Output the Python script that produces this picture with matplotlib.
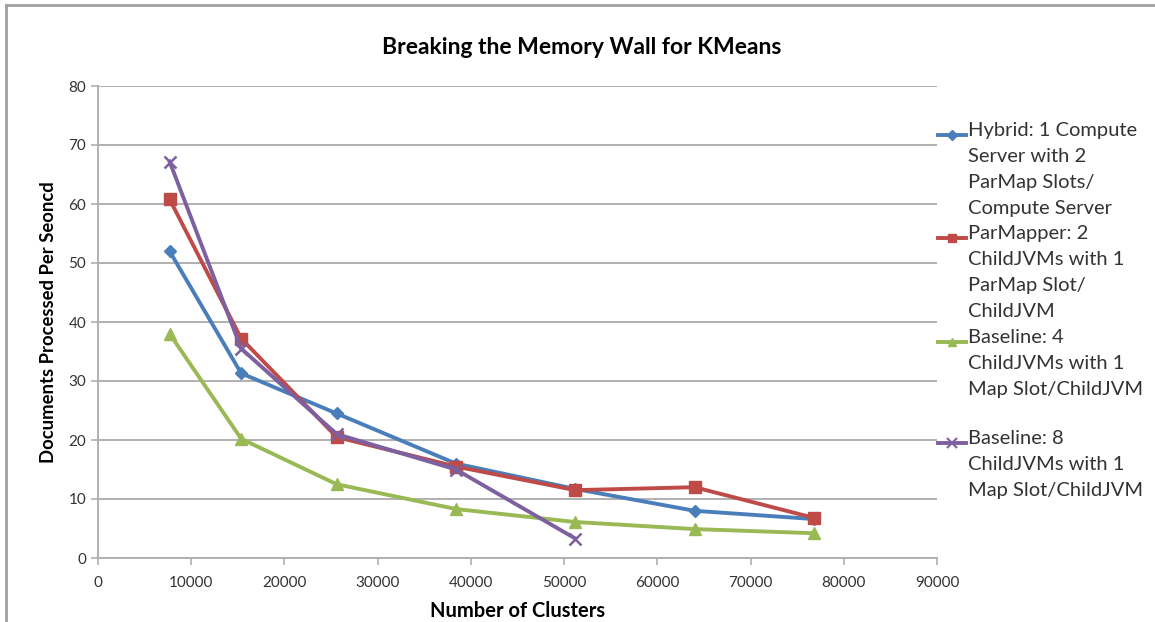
#!/usr/bin/env python3
"""KMeans memory wall chart: documents/sec vs number of clusters."""
import matplotlib

matplotlib.use("Agg")
import matplotlib.pyplot as plt
from matplotlib.lines import Line2D

FONT = ["Lato", "DejaVu Sans"]
plt.rcParams["font.family"] = FONT

clusters = [7680, 15360, 25600, 38400, 51200, 64000, 76800]
hybrid = [52.0, 31.3, 24.5, 16.0, 11.7, 8.0, 6.6]
parmapper = [60.8, 37.2, 20.5, 15.5, 11.5, 12.0, 6.8]
baseline4 = [38.0, 20.2, 12.5, 8.3, 6.1, 4.9, 4.2]
clusters8 = [7680, 15360, 25600, 38400, 51200]
baseline8 = [67.2, 35.5, 21.0, 15.0, 3.3]

labels = [
    "Hybrid: 1 Compute\nServer with 2\nParMap Slots/\nCompute Server",
    "ParMapper: 2\nChildJVMs with 1\nParMap Slot/\nChildJVM",
    "Baseline: 4\nChildJVMs with 1\nMap Slot/ChildJVM",
    "Baseline: 8\nChildJVMs with 1\nMap Slot/ChildJVM",
]
colors = ["#4a7ebb", "#be4b48", "#98b954", "#7d60a0"]
markers = ["D", "s", "^", "x"]
msizes = [6, 8, 8, 9]

W, H = 1155, 622
fig = plt.figure(figsize=(W / 100, H / 100), dpi=100)
ax = fig.add_axes([98 / W, 1 - 558 / H, (937 - 98) / W, (558 - 86) / H])

series = [(clusters, hybrid), (clusters, parmapper), (clusters, baseline4), (clusters8, baseline8)]
for (xs, ys), c, m, ms in zip(series, colors, markers, msizes):
    ax.plot(xs, ys, color=c, lw=2.8, marker=m, ms=ms, mew=1.8 if m == "x" else 1,
            mec=c, mfc=c, zorder=3)

ax.set_xlim(0, 90000)
ax.set_ylim(0, 80)
ax.set_xticks(range(0, 90001, 10000))
ax.set_yticks(range(0, 81, 10))
ax.grid(axis="y", color="#b0b0b0", lw=1.4)
ax.set_axisbelow(True)
for s in ["top", "right"]:
    ax.spines[s].set_visible(False)
for s in ["left", "bottom"]:
    ax.spines[s].set_color("#b0b0b0")
    ax.spines[s].set_linewidth(1.4)
ax.tick_params(colors="#b0b0b0", labelcolor="#333333", labelsize=11, length=5, width=1.2)
ax.tick_params(axis="x", pad=8)
ax.set_xlabel("Number of Clusters", fontsize=14.5, fontweight="bold", labelpad=8)
ax.set_ylabel("Documents Processed Per Seoncd", fontsize=13.3, fontweight="bold", labelpad=8)
fig.text(582 / W, 1 - 48 / H, "Breaking the Memory Wall for KMeans", ha="center", va="center",
         fontsize=16.5, fontweight="bold")

# legend drawn by hand so the handle sits on the first line of each label
leg_y = [135, 238, 342, 443]
for lab, c, m, ms, y in zip(labels, colors, markers, msizes, leg_y):
    yf = 1 - y / H
    fig.add_artist(Line2D([938 / W, 966 / W], [yf, yf], color=c, lw=2.8))
    fig.add_artist(Line2D([952 / W], [yf], color=c, marker=m, ms=ms * 0.8, mec=c, mfc=c,
                          mew=1.5 if m == "x" else 1))
    fig.text(968 / W, yf + 13 / H, lab, ha="left", va="top", fontsize=14.5,
             color="#333333", linespacing=1.64)

# chart frame
fig.add_artist(Line2D([6 / W, 6 / W], [0, 1 - 5 / H], color="#a0a0a0", lw=2))
fig.add_artist(Line2D([6 / W, 1], [1 - 5 / H, 1 - 5 / H], color="#a0a0a0", lw=2))

fig.savefig("out.png", dpi=100)
